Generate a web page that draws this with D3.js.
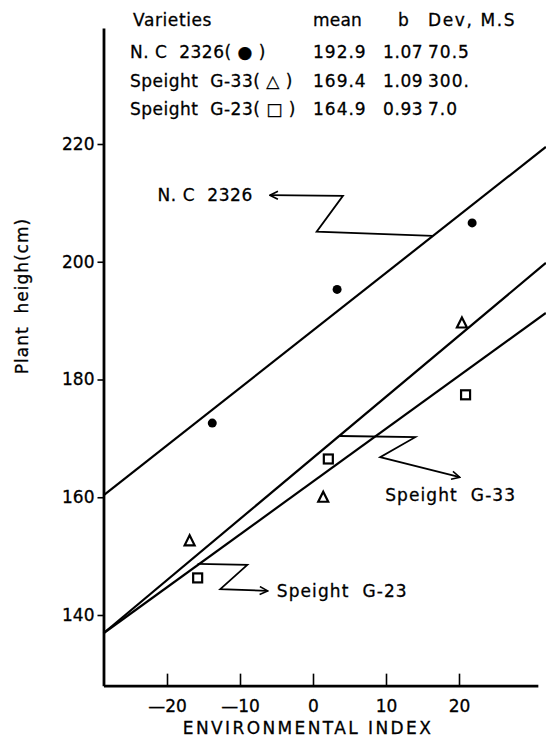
<!DOCTYPE html>
<html>
<head>
<meta charset="utf-8">
<script src="https://cdn.jsdelivr.net/npm/d3@7"></script>
<style>
  body { margin: 0; background: #fff; }
  svg text {
    font-family: "DejaVu Sans", "Liberation Sans", sans-serif;
    fill: #000;
    stroke: #000;
    stroke-width: 0.3px;
    white-space: pre;
  }
</style>
</head>
<body>
<div id="chart"></div>
<script>
// table in the top corner
const varieties = ["N. C  2326( \u25CF )", "Speight  G-33( \u25B3 )", "Speight  G-23( \u25A1 )"];
const means = ["192.9", "169.4", "164.9"];
const bValues = ["1.07", "1.09", "0.93"];
const devMS = ["70.5", "300.", "7.0"];

// axis ticks
const xTicks = [-20, -10, 0, 10, 20];
const xTickLabels = ["\u201420", "\u201410", "0", "10", "20"];
const yTicks = [140, 160, 180, 200, 220];

// observed points (environmental index, plant height)
const ncPoints = [[-13.8, 172.6], [3.3, 195.3], [21.8, 206.6]];
const g33Points = [[-16.9, 152.6], [1.4, 160.0], [20.4, 189.6]];
const g23Points = [[-15.8, 146.3], [2.1, 166.5], [20.9, 177.4]];

// fitted lines, [x, y] at both ends
const ncLine = [[-28.7, 160.3], [31.9, 219.5]];
const g33Line = [[-28.7, 136.9], [31.9, 199.8]];
const g23Line = [[-28.7, 136.9], [31.9, 191.3]];

// leader lines for the line labels
const ncLeader = [[-5.9, 211.3], [4.1, 211.2], [0.5, 205.1], [16.4, 204.4]];
const g33Leader = [[3.7, 170.4], [14.0, 170.2], [9.2, 166.8], [20.1, 163.4]];
const g23Leader = [[-15.8, 148.7], [-9.0, 148.5], [-12.7, 144.4], [-6.2, 144.1]];

const width = 546, height = 745;
const xMin = -28.7, xMax = 30.8, yMin = 128.0, yMax = 239.7;

const svg = d3.select("#chart").append("svg")
    .attr("width", width)
    .attr("height", height);

const defs = svg.append("defs");
defs.append("marker")
    .attr("id", "arrow")
    .attr("viewBox", "0 0 10 10")
    .attr("refX", 9).attr("refY", 5)
    .attr("markerWidth", 10).attr("markerHeight", 10)
    .attr("markerUnits", "userSpaceOnUse")
    .attr("orient", "auto")
    .append("path")
    .attr("d", "M1,1 L9,5 L1,9")
    .attr("fill", "none")
    .attr("stroke", "#000")
    .attr("stroke-width", 1.6);

defs.append("marker")
    .attr("id", "arrowStart")
    .attr("viewBox", "0 0 10 10")
    .attr("refX", 1).attr("refY", 5)
    .attr("markerWidth", 10).attr("markerHeight", 10)
    .attr("markerUnits", "userSpaceOnUse")
    .attr("orient", "auto")
    .append("path")
    .attr("d", "M9,1 L1,5 L9,9")
    .attr("fill", "none")
    .attr("stroke", "#000")
    .attr("stroke-width", 1.6);

const x = d3.scaleLinear().domain([-20, 20]).range([167, 459]);
const y = d3.scaleLinear().domain([140, 220]).range([615, 144]);
x.range([x(xMin), x(xMax)]).domain([xMin, xMax]);
y.range([y(yMin), y(yMax)]).domain([yMin, yMax]);

// axes
const xAxis = d3.axisBottom(x)
    .tickValues(xTicks)
    .tickFormat((d, i) => xTickLabels[i])
    .tickSizeInner(-12)
    .tickSizeOuter(0)
    .tickPadding(14);

svg.append("g")
    .attr("class", "x axis")
    .attr("transform", `translate(0,${y(yMin)})`)
    .call(xAxis);

const yAxis = d3.axisLeft(y)
    .tickValues(yTicks)
    .tickSizeInner(6)
    .tickSizeOuter(0)
    .tickPadding(3);

svg.append("g")
    .attr("class", "y axis")
    .attr("transform", `translate(${x(xMin)},0)`)
    .call(yAxis);

svg.selectAll(".axis .domain").attr("stroke-width", 2.8);
svg.selectAll(".axis .tick line").attr("stroke-width", 1.6);
svg.selectAll(".axis text")
    .attr("font-family", null)
    .attr("font-size", null)
    .style("font-size", "17px");

svg.append("text")
    .attr("x", 308)
    .attr("y", 734)
    .attr("text-anchor", "middle")
    .style("font-size", "17px")
    .style("letter-spacing", "2.4px")
    .text("ENVIRONMENTAL INDEX");

svg.append("text")
    .attr("transform", "translate(28,296) rotate(-90)")
    .attr("text-anchor", "middle")
    .style("font-size", "17px")
    .style("letter-spacing", "1px")
    .text("Plant  heigh(cm)");

// fitted lines
const line = d3.line().x(d => x(d[0])).y(d => y(d[1]));
[ncLine, g33Line, g23Line].forEach(l => {
    svg.append("path")
        .datum(l)
        .attr("d", line)
        .attr("fill", "none")
        .attr("stroke", "#000")
        .attr("stroke-width", 2.2);
});

// points
svg.selectAll(".dot")
    .data(ncPoints)
    .enter().append("circle")
    .attr("class", "dot")
    .attr("cx", d => x(d[0]))
    .attr("cy", d => y(d[1]))
    .attr("r", 4.5)
    .attr("fill", "#000");

svg.selectAll(".tri")
    .data(g33Points)
    .enter().append("path")
    .attr("class", "tri")
    .attr("transform", d => `translate(${x(d[0])},${y(d[1])})`)
    .attr("d", "M0,-5.5 L5,4.5 L-5,4.5 Z")
    .attr("fill", "none")
    .attr("stroke", "#000")
    .attr("stroke-width", 2.2);

svg.selectAll(".sq")
    .data(g23Points)
    .enter().append("rect")
    .attr("class", "sq")
    .attr("x", d => x(d[0]) - 4.5)
    .attr("y", d => y(d[1]) - 4.5)
    .attr("width", 9)
    .attr("height", 9)
    .attr("fill", "none")
    .attr("stroke", "#000")
    .attr("stroke-width", 2.2);

// label leaders
svg.append("path")
    .datum(ncLeader)
    .attr("d", line)
    .attr("fill", "none")
    .attr("stroke", "#000")
    .attr("stroke-width", 1.8)
    .attr("marker-start", "url(#arrowStart)");

[g33Leader, g23Leader].forEach(l => {
    svg.append("path")
        .datum(l)
        .attr("d", line)
        .attr("fill", "none")
        .attr("stroke", "#000")
        .attr("stroke-width", 1.8)
        .attr("marker-end", "url(#arrow)");
});

svg.append("text")
    .attr("x", x(ncLeader[0][0]) - 17)
    .attr("y", y(ncLeader[0][1]))
    .attr("dy", "0.36em")
    .attr("text-anchor", "end")
    .style("font-size", "17px")
    .style("letter-spacing", "0.6px")
    .text("N. C  2326");

svg.append("text")
    .attr("x", x(g33Leader[2][0]) + 5)
    .attr("y", y(160.4))
    .attr("dy", "0.36em")
    .style("font-size", "17px")
    .style("letter-spacing", "1.1px")
    .text("Speight  G-33");

svg.append("text")
    .attr("x", x(g23Leader[3][0]) + 9)
    .attr("y", y(g23Leader[3][1]))
    .attr("dy", "0.36em")
    .style("font-size", "17px")
    .style("letter-spacing", "1.1px")
    .text("Speight  G-23");

// table
const table = svg.append("g");
const headers = [["Varieties", 133, 0.6], ["mean", 313, 0.2], ["b", 398, 0], ["Dev, M.S", 428, 1.6]];
table.selectAll(".hdr")
    .data(headers)
    .enter().append("text")
    .attr("class", "hdr")
    .attr("x", d => d[1])
    .attr("y", 26)
    .style("font-size", "17px")
    .style("letter-spacing", d => d[2] + "px")
    .text(d => d[0]);

const rowY = [58, 87, 115];
const cols = [[varieties, 130, 0.5], [means, 313, 1], [bValues, 383, 0.6], [devMS, 428, 1]];
cols.forEach(c => {
    table.selectAll(null)
        .data(c[0])
        .enter().append("text")
        .attr("x", c[1])
        .attr("y", (d, i) => rowY[i])
        .style("font-size", "17px")
        .style("letter-spacing", c[2] + "px")
        .text(d => d);
});
</script>
</body>
</html>
